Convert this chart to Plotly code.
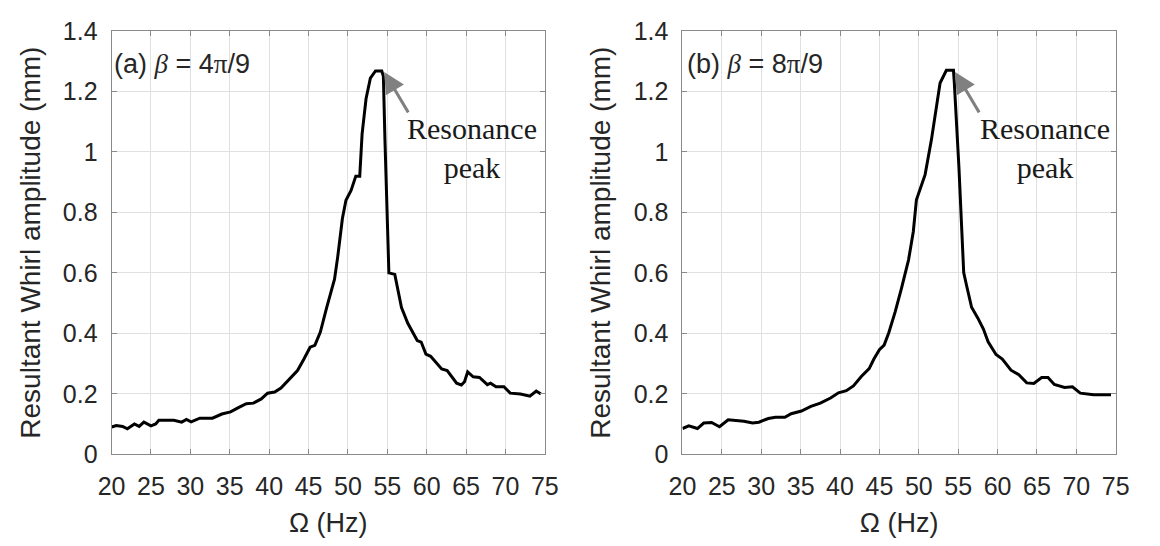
import plotly.graph_objects as go

# ---- data ----
freq_a = [20.0, 20.6, 21.4, 22.0, 22.9, 23.5, 24.1, 25.0, 25.6, 26.0, 27.9, 28.9, 29.5, 30.1,
          31.2, 32.8, 34.0, 35.1, 36.1, 37.1, 38.0, 39.0, 39.8, 40.7, 41.5, 42.7, 43.6, 44.4,
          45.2, 45.8, 46.5, 47.3, 48.3, 48.7, 49.1, 49.3, 49.75, 50.4, 51.0, 51.5, 51.8, 52.3,
          52.85, 53.5, 54.3, 54.5, 54.7, 55.1, 55.2, 55.95, 56.8, 57.6, 58.8, 59.3, 59.9, 60.5,
          61.9, 62.6, 63.8, 64.4, 64.8, 65.2, 65.9, 66.7, 67.7, 68.1, 68.8, 69.8, 70.6, 71.9,
          72.5, 73.1, 73.9, 74.5]
amp_a = [0.090, 0.095, 0.092, 0.084, 0.100, 0.092, 0.106, 0.094, 0.100, 0.112, 0.112, 0.106,
         0.115, 0.107, 0.119, 0.119, 0.133, 0.140, 0.154, 0.167, 0.169, 0.183, 0.202, 0.206,
         0.219, 0.254, 0.277, 0.314, 0.354, 0.360, 0.404, 0.485, 0.579, 0.652, 0.735, 0.780,
         0.840, 0.873, 0.920, 0.920, 1.060, 1.176, 1.244, 1.268, 1.268, 1.250, 1.040, 0.675,
         0.600, 0.595, 0.485, 0.433, 0.376, 0.371, 0.331, 0.324, 0.282, 0.277, 0.235, 0.229,
         0.240, 0.272, 0.256, 0.254, 0.230, 0.235, 0.223, 0.223, 0.202, 0.199, 0.196, 0.192,
         0.209, 0.199]

freq_b = [20.0, 20.8, 21.9, 22.7, 23.7, 24.7, 25.8, 26.8, 27.8, 28.9, 29.7, 30.9, 31.8, 33.0,
          33.8, 35.1, 36.3, 37.5, 38.8, 39.8, 40.8, 41.7, 42.7, 43.7, 44.3, 45.0, 45.6, 46.2,
          47.0, 47.8, 48.7, 49.3, 49.7, 50.8, 51.6, 52.7, 53.5, 54.4, 54.5, 55.1, 55.6, 55.7,
          56.1, 56.7, 57.5, 58.2, 58.8, 59.8, 60.6, 61.7, 62.7, 63.7, 64.6, 65.6, 66.4, 67.2,
          68.5, 69.5, 70.5, 71.4, 72.2, 74.4]
amp_b = [0.085, 0.094, 0.085, 0.103, 0.105, 0.091, 0.114, 0.111, 0.109, 0.103, 0.106, 0.118,
         0.122, 0.122, 0.134, 0.143, 0.158, 0.169, 0.186, 0.203, 0.210, 0.226, 0.257, 0.283,
         0.315, 0.346, 0.361, 0.403, 0.471, 0.549, 0.643, 0.736, 0.842, 0.925, 1.040, 1.228,
         1.270, 1.270, 1.233, 0.946, 0.675, 0.601, 0.554, 0.486, 0.450, 0.414, 0.372, 0.330,
         0.315, 0.278, 0.263, 0.236, 0.234, 0.254, 0.254, 0.231, 0.221, 0.223, 0.202, 0.200,
         0.197, 0.197]

x_ticks = [20, 25, 30, 35, 40, 45, 50, 55, 60, 65, 70, 75]
y_ticks = [0, 0.2, 0.4, 0.6, 0.8, 1.0, 1.2, 1.4]
y_tick_text = ["0", "0.2", "0.4", "0.6", "0.8", "1", "1.2", "1.4"]
panel_labels = ["(a) ", "(b) "]
beta_values = ["4", "8"]
peak_points = [(54.6, 1.265), (54.6, 1.265)]

W, H = 1160, 546
TXT = "#262626"
SANS = "Liberation Sans, Arial, sans-serif"
SERIF = "Liberation Serif, Times New Roman, serif"

fig = go.Figure()
fig.add_trace(go.Scatter(x=freq_a, y=amp_a, mode="lines", line=dict(color="black", width=3),
                         xaxis="x", yaxis="y", showlegend=False))
fig.add_trace(go.Scatter(x=freq_b, y=amp_b, mode="lines", line=dict(color="black", width=3),
                         xaxis="x2", yaxis="y2", showlegend=False))

xdoms = [[100 / W, 544 / W], [685 / W, 1129 / W]]
ydom = [1 - 464 / H, 1 - 18 / H]

def xa(dom, anchor):
    return dict(domain=dom, anchor=anchor, range=[20, 75], tickvals=x_ticks,
                showgrid=True, gridcolor="#e0e0e0", gridwidth=1, zeroline=False,
                showline=True, linecolor="#8a8a8a", linewidth=1, mirror="ticks",
                ticks="inside", ticklen=5, tickcolor="#8a8a8a",
                tickfont=dict(family=SANS, size=25, color=TXT), ticklabelstandoff=10,
                title=dict(text="Ω (Hz)", font=dict(family=SANS, size=27, color=TXT), standoff=13))

def ya(anchor):
    return dict(domain=ydom, anchor=anchor, range=[0, 1.4], tickvals=y_ticks, ticktext=y_tick_text,
                showgrid=True, gridcolor="#e0e0e0", gridwidth=1, zeroline=False,
                showline=True, linecolor="#8a8a8a", linewidth=1, mirror="ticks",
                ticks="inside", ticklen=5, tickcolor="#8a8a8a",
                tickfont=dict(family=SANS, size=25, color=TXT), ticklabelstandoff=8,
                title=dict(text="Resultant Whirl amplitude (mm)",
                           font=dict(family=SANS, size=28, color=TXT), standoff=14))

annotations = []
label_x = [100, 688]
res_x = [469, 1056]
axes_ids = [("x", "y"), ("x2", "y2")]
for i in range(2):
    lab = (panel_labels[i] + "<span style=\"font-family:'Liberation Serif'\"><i>β</i></span> = "
           + beta_values[i] + "<span style=\"font-family:'Liberation Serif'\">π</span>/9")
    annotations.append(dict(text=lab, xref="paper", yref="paper", x=label_x[i] / W, y=1 - 53 / H,
                            xanchor="left", yanchor="middle", showarrow=False,
                            font=dict(family=SANS, size=27, color=TXT)))
    annotations.append(dict(text="Resonance<br>peak", xref="paper", yref="paper", x=res_x[i] / W,
                            y=1 - 141 / H, xanchor="center", yanchor="middle", align="center",
                            showarrow=False, font=dict(family=SERIF, size=30, color="#1a1a1a")))
    px_, py_ = peak_points[i]
    annotations.append(dict(text="", x=px_, y=py_, xref=axes_ids[i][0], yref=axes_ids[i][1],
                            ax=25, ay=42, axref="pixel", ayref="pixel", showarrow=True,
                            arrowhead=2, arrowsize=1.4, arrowwidth=3, arrowcolor="#808080",
                            standoff=0))

fig.update_layout(
    width=W, height=H, margin=dict(l=0, r=0, t=0, b=0),
    paper_bgcolor="white", plot_bgcolor="white",
    xaxis=xa(xdoms[0], "y"), yaxis=ya("x"),
    xaxis2=xa(xdoms[1], "y2"), yaxis2=ya("x2"),
    annotations=annotations,
)

fig.write_html("out.html")
